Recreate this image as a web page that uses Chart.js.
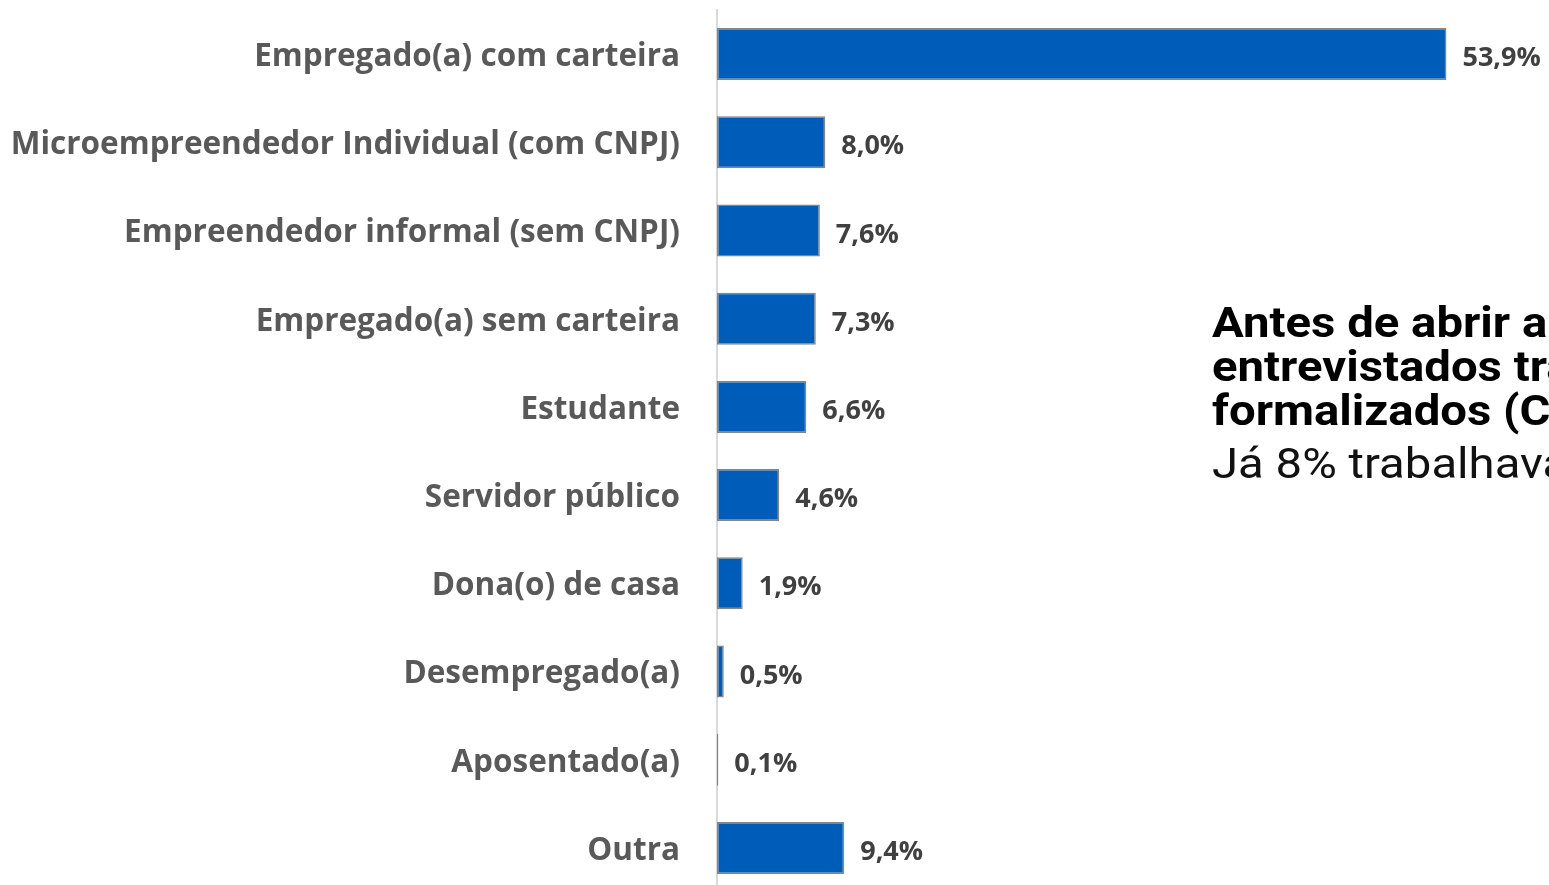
<!DOCTYPE html>
<html lang="pt-BR">
<head>
<meta charset="utf-8">
<script src="https://cdn.jsdelivr.net/npm/chart.js@4/dist/chart.umd.min.js"></script>
<style>
  html, body { margin: 0; padding: 0; background: #fff; overflow: hidden; width: 1549px; height: 885px; }
  #wrap { position: relative; width: 1549px; height: 895px; }
  #note {
    position: absolute; left: 1212px; top: 300px;
    font-family: Roboto, sans-serif; color: #000; white-space: nowrap;
    transform: scaleX(1.1); transform-origin: left top;
  }
  #note .big { font-weight: 700; font-size: 43px; line-height: 44px; }
  #note .small { font-weight: 400; font-size: 43px; line-height: 44px; margin-top: 9px; color: #111; }
</style>
</head>
<body>
<div id="wrap">
  <canvas id="chart" width="1549" height="895"></canvas>
  <div id="note">
    <div class="big">Antes de abrir a empresa, 53,9% dos<br>entrevistados trabalhavam como empregados<br>formalizados (CLT).</div>
    <div class="small">Já 8% trabalhavam como MEI.</div>
  </div>
</div>
<script>
// Ocupação antes de abrir a empresa (%)
const categorias = [
  "Empregado(a) com carteira",
  "Microempreendedor Individual (com CNPJ)",
  "Empreendedor informal (sem CNPJ)",
  "Empregado(a) sem carteira",
  "Estudante",
  "Servidor público",
  "Dona(o) de casa",
  "Desempregado(a)",
  "Aposentado(a)",
  "Outra",
];
const valores = [53.9, 8.0, 7.6, 7.3, 6.6, 4.6, 1.9, 0.5, 0.1, 9.4];

const fmt = (v) => v.toFixed(1).replace(".", ",") + "%";

// rótulos de valor à direita das barras
const rotulos = {
  id: "rotulos",
  afterDatasetsDraw(chart) {
    const ctx = chart.ctx;
    const meta = chart.getDatasetMeta(0);
    ctx.save();
    ctx.font = "bold 27px 'Open Sans', sans-serif";
    ctx.fillStyle = "#404040";
    ctx.textBaseline = "alphabetic";
    meta.data.forEach((bar, i) => {
      ctx.fillText(fmt(valores[i]), bar.x + 16, bar.y + 12);
    });
    ctx.restore();
  },
};

new Chart(document.getElementById("chart"), {
  type: "bar",
  data: {
    labels: categorias,
    datasets: [{
      data: valores,
      backgroundColor: "#005CB9",
      borderColor: "#858585",
      borderWidth: 1.5,
      borderSkipped: false,
      barPercentage: 0.59,
      categoryPercentage: 1,
    }],
  },
  options: {
    indexAxis: "y",
    responsive: false,
    animation: false,
    layout: { padding: { top: 10, bottom: 3, right: 20, left: 0 } },
    plugins: { legend: { display: false }, tooltip: { enabled: false } },
    scales: {
      x: { display: false, min: 0, max: 60 },
      y: {
        grid: { display: false, drawTicks: false },
        border: { color: "#d9d9d9", width: 2 },
        ticks: {
          color: "#595959",
          padding: 37,
          labelOffset: 3,
          font: { family: "'Open Sans', sans-serif", weight: "bold", size: 31.5 },
        },
        afterFit(scale) {
          scale.width = 717;
          scale.paddingTop = 0;
          scale.paddingBottom = 0;
        },
      },
    },
  },
  plugins: [rotulos],
});
</script>
</body>
</html>
